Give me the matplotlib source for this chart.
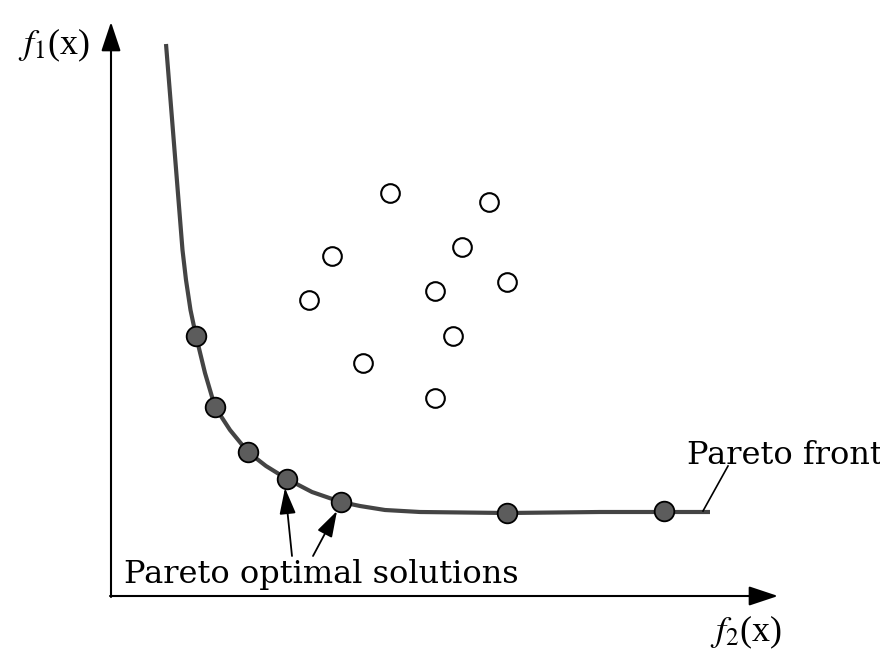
import matplotlib
matplotlib.use("Agg")
import matplotlib.pyplot as plt

# Pareto front curve (pixel-like units, y grows down)
front_x = [166, 170.5, 174.5, 178.5, 182.5, 186, 190.5, 196, 205, 215, 230, 248, 266, 287, 312, 341, 360, 385, 420, 507, 600, 664, 710]
front_y = [44, 100, 150, 200, 250, 280, 310, 336, 373, 407, 430, 452, 466, 479, 492, 502, 506, 510, 512, 513, 512, 512, 512]

# Pareto optimal solutions (filled dots)
opt_x = [196, 215, 248, 287, 341, 507, 664]
opt_y = [336, 407, 452, 479, 502, 513, 511]

# dominated solutions (open circles)
dom_x = [390, 489, 332, 462, 309, 435, 507, 453, 363, 435]
dom_y = [193, 202, 256, 247, 300, 291, 282, 336, 363, 398]

times = ["Liberation Serif", "DejaVu Serif"]
label_font = ["DejaVu Serif"]

fig = plt.figure(figsize=(8.8, 6.58), dpi=100)
ax = fig.add_axes([0, 0, 1, 1])
ax.set_xlim(0, 880)
ax.set_ylim(658, 0)
ax.axis("off")

# axes arrows
axis_arrow = dict(arrowstyle="-|>,head_length=1.8,head_width=0.6",
                  color="black", lw=1.5, shrinkA=0, shrinkB=0)
ax.annotate("", xy=(111, 22), xytext=(111, 597), arrowprops=axis_arrow)
ax.annotate("", xy=(778, 596), xytext=(110, 596), arrowprops=axis_arrow)

ax.text(18, 45, r"$\mathit{f}_{\mathrm{1}}$(x)", fontsize=26, family=times,
        va="center", ha="left", math_fontfamily="stix")
ax.text(710, 632, r"$\mathit{f}_{\mathrm{2}}$(x)", fontsize=26, family=times,
        va="center", ha="left", math_fontfamily="stix")

# front
ax.plot(front_x, front_y, color="#444444", lw=3, solid_capstyle="butt",
        solid_joinstyle="round", zorder=2)
ax.scatter(opt_x, opt_y, s=200, color="#5c5c5c", edgecolors="black", linewidths=1.3, zorder=3)
ax.scatter(dom_x, dom_y, s=180, facecolors="white", edgecolors="black", linewidths=1.5, zorder=3)

# labels
ax.plot([703, 728], [511, 466], color="black", lw=1.2)
ax.text(687, 464, "Pareto front", fontsize=23, family=label_font, ha="left", va="baseline")

sol_arrow = dict(arrowstyle="-|>,head_length=1.6,head_width=0.5",
                 color="black", lw=1.3, shrinkA=0, shrinkB=0)
ax.annotate("", xy=(285, 488), xytext=(292, 556), arrowprops=sol_arrow)
ax.annotate("", xy=(337, 511), xytext=(313, 556), arrowprops=sol_arrow)
ax.text(124, 583, "Pareto optimal solutions", fontsize=23, family=label_font,
        ha="left", va="baseline")

fig.savefig("out.png", dpi=100)
